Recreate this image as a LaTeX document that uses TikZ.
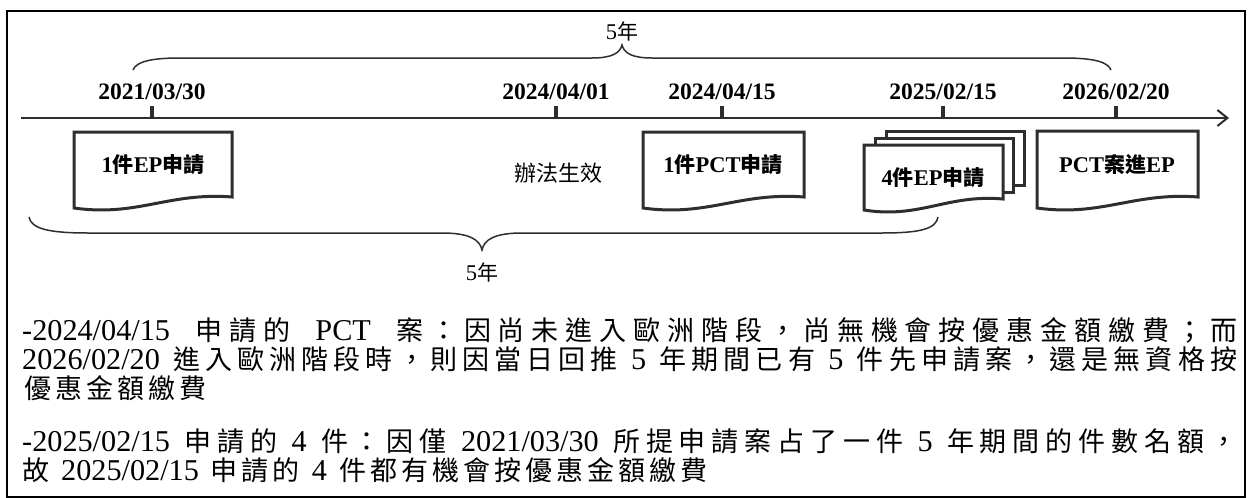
\documentclass[tikz,border=0pt]{standalone}
\usepackage{fontspec}
\setmainfont{Liberation Serif}[Scale=1.07]
\newfontfamily\cjk{Noto Sans CJK TC}
\newfontfamily\latbody{Liberation Serif}[Scale=1.12]
\usetikzlibrary{arrows.meta}
\definecolor{ink}{HTML}{2E2E2E}
\newcommand\lt[1]{{\rmfamily #1}}
\newcommand\lb[1]{{\latbody #1}}
\newcommand\spc{\hskip 12pt plus 10pt\relax}
\newcommand\wspc{\hskip 18pt plus 20pt\relax}
% inter-character spacing for CJK text
\newcount\cjkc
\newcommand\setcjkrange[2]{\cjkc=#1\relax
  \loop\XeTeXcharclass\cjkc=7\relax\ifnum\cjkc<#2\relax\advance\cjkc by 1\relax\repeat}
\setcjkrange{"4E00}{"9FFF}
\setcjkrange{"3000}{"303F}
\setcjkrange{"FF00}{"FF60}
\XeTeXinterchartoks 7 7 = {\hskip 4pt plus 8pt\relax}
\newcommand\cjkspacing{\XeTeXinterchartokenstate=1\relax}
\newcommand\docshape[5][]{%
  \draw[docline,#1] (#2,#4) -- (#3,#4) -- (#3,#5)
    .. controls ({#2+0.6*(#3-#2)},#5-5) and ({#2+0.4*(#3-#2)},#5+20) .. (#2,#5+11) -- cycle;}
\tikzset{
  docline/.style={draw=ink,line width=3pt,line join=miter},
  axisline/.style={draw=ink,line width=2pt},
  tickmark/.style={draw=ink,line width=4pt},
  braceline/.style={draw=ink,line width=1.5pt},
  datelbl/.style={anchor=base,inner sep=0pt,font=\bfseries\fontsize{22}{22}\selectfont},
  boxlbl/.style={inner sep=0pt,font=\cjk\bfseries\fontsize{21}{21}\selectfont},
  plainlbl/.style={inner sep=0pt,font=\cjk\fontsize{21}{21}\selectfont},
  bodytext/.style={anchor=base west,inner sep=0pt,font=\cjk\fontsize{27}{27}\selectfont\cjkspacing}
}
\begin{document}
\begin{tikzpicture}[x=1pt,y=-1pt]
\useasboundingbox (0,0) rectangle (1251,498);
\fill[white] (0,0) rectangle (1251,498);
\draw[line width=2pt] (7,11) rectangle (1245,497);

% axis
\coordinate (ax0) at (21,118);
\coordinate (ax1) at (1229,118);
\draw[axisline,-{Straight Barb[length=10pt,width=16pt]}] (ax0) -- (ax1);

% ticks and dates
\foreach \n/\x in {k1/152,k2/556,k3/722,k4/943,k5/1116}{
  \coordinate (\n) at (\x,118);
  \draw[tickmark] (\n) -- ++(0,-12);
}
\node[datelbl] (d1) at (152,99) {2021/03/30};
\node[datelbl] (d2) at (556,99) {2024/04/01};
\node[datelbl] (d3) at (722,99) {2024/04/15};
\node[datelbl] (d4) at (943,99) {2025/02/15};
\node[datelbl] (d5) at (1116,99) {2026/02/20};

% top brace
\draw[braceline] (133,70) .. controls (136,62) and (150,58) .. (180,58) -- (592,58)
  .. controls (612,58) and (620,53) .. (622,45)
  .. controls (624,53) and (632,58) .. (652,58) -- (1064,58)
  .. controls (1094,58) and (1108,62) .. (1111,70);
\node[plainlbl] (topyr) at (622,31) {\lt{5}年};

% bottom brace
\draw[braceline] (29,217) .. controls (31,229) and (50,233) .. (88,233) -- (442,233)
  .. controls (470,233) and (480,240) .. (482,250)
  .. controls (484,240) and (494,233) .. (522,233) -- (882,233)
  .. controls (920,233) and (936,229) .. (938,217);
\node[plainlbl] (botyr) at (482,272) {\lt{5}年};

% documents
\docshape{74}{232}{132}{197}
\node[boxlbl] (b1) at (153,165) {\lt{1}件\lt{EP}申請};
\node[plainlbl,font=\cjk\fontsize{22}{22}\selectfont] (law) at (558,173) {辦法生效};
\docshape{643}{804}{132}{197}
\node[boxlbl] (b2) at (723,165) {\lt{1}件\lt{PCT}申請};
\draw[docline,fill=white] (886,131) rectangle (1024,185);
\draw[docline,fill=white] (875,138) rectangle (1013,192);
\docshape[fill=white]{864}{1003}{145}{199}
\node[boxlbl] (b3) at (933,178) {\lt{4}件\lt{EP}申請};
\docshape{1037}{1198}{131}{197}
\node[boxlbl] (b4) at (1117,165) {\lt{PCT}案進\lt{EP}};

% body text
\node[bodytext] (t1) at (22,340) {\makebox[1215pt][s]{\lb{-2024/04/15}\wspc 申請的\wspc\lb{PCT}\wspc 案：因尚未進入歐洲階段，尚無機會按優惠金額繳費；而}};
\node[bodytext] (t2) at (22,369) {\makebox[1215pt][s]{\lb{2026/02/20}\spc 進入歐洲階段時，則因當日回推\spc\lb{5}\spc 年期間已有\spc\lb{5}\spc 件先申請案，還是無資格按}};
\node[bodytext] (t3) at (24,398) {優惠金額繳費};
\node[bodytext] (t4) at (22,451) {\makebox[1215pt][s]{\lb{-2025/02/15}\spc 申請的\spc\lb{4}\spc 件：因僅\spc\lb{2021/03/30}\spc 所提申請案占了一件\spc\lb{5}\spc 年期間的件數名額，}};
\node[bodytext] (t5) at (22,480) {故\spc\lb{2025/02/15}\spc 申請的\spc\lb{4}\spc 件都有機會按優惠金額繳費};
\end{tikzpicture}
\end{document}
